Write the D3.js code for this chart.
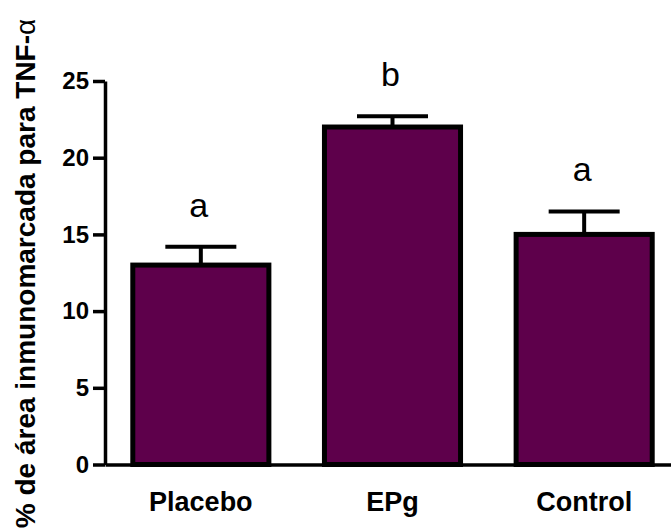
<html>
<script src='https://d3js.org/d3.v7.min.js'></script>
<body style="margin:0" onload='init()'>
<style>
    body { background: #fff; }
    text { font-family: Arial, "Liberation Sans", sans-serif; }
</style>
<svg width=671 height=531></svg>
<script>

// values
var groups  = ["Placebo", "EPg", "Control"];
var means   = [13.0, 22.0, 15.0];
var sems    = [1.2, 0.7, 1.5];
var letters = ["a", "b", "a"];
var yTicks  = [0, 5, 10, 15, 20, 25];

function init() {
    var svg = d3.select("svg");
    var barColor = "#5e004b";

    var x = d3.scaleBand()
        .domain(groups)
        .range([105, 680])
        .paddingInner(0.29)
        .paddingOuter(0.145);

    var y = d3.scaleLinear()
        .domain([0, 25])
        .range([464.5, 81]);

    var data = groups.map(function(g, i) {
        return {name: g, mean: means[i], sem: sems[i], letter: letters[i]};
    });

    // bars
    svg.append("g").selectAll("rect")
        .data(data)
        .enter()
        .append("rect")
        .attr("x", function(d) { return x(d.name); })
        .attr("y", function(d) { return y(d.mean); })
        .attr("width", x.bandwidth())
        .attr("height", function(d) { return y(0) - y(d.mean); })
        .attr("fill", barColor)
        .attr("stroke", "#000")
        .attr("stroke-width", 5);

    // error bars (upper only)
    var err = svg.append("g").attr("stroke", "#000").attr("stroke-width", 4);
    err.selectAll(".stem")
        .data(data)
        .enter()
        .append("line")
        .attr("x1", function(d) { return x(d.name) + x.bandwidth() / 2; })
        .attr("x2", function(d) { return x(d.name) + x.bandwidth() / 2; })
        .attr("y1", function(d) { return y(d.mean) - 2; })
        .attr("y2", function(d) { return y(d.mean + d.sem); });
    err.selectAll(".cap")
        .data(data)
        .enter()
        .append("line")
        .attr("x1", function(d) { return x(d.name) + x.bandwidth() / 2 - 35.5; })
        .attr("x2", function(d) { return x(d.name) + x.bandwidth() / 2 + 35.5; })
        .attr("y1", function(d) { return y(d.mean + d.sem); })
        .attr("y2", function(d) { return y(d.mean + d.sem); });

    // significance letters
    svg.append("g").selectAll("text")
        .data(data)
        .enter()
        .append("text")
        .attr("x", function(d) { return x(d.name) + x.bandwidth() / 2 - 2; })
        .attr("y", function(d) { return y(d.mean + d.sem) - 30; })
        .attr("text-anchor", "middle")
        .style("font-size", "34px")
        .text(function(d) { return d.letter; });

    // y axis
    var yAxis = svg.append("g")
        .attr("transform", "translate(105,0)")
        .call(d3.axisLeft(y)
            .tickValues(yTicks)
            .tickSize(12)
            .tickSizeOuter(0)
            .tickPadding(4));
    yAxis.select(".domain").attr("stroke-width", 3.5);
    yAxis.selectAll(".tick line").attr("stroke-width", 3.5);
    yAxis.selectAll(".tick text")
        .style("font-size", "24px")
        .style("font-weight", "bold")
        .attr("fill", "#000");

    // x axis
    var xAxis = svg.append("g")
        .attr("transform", "translate(0," + y(0) + ")")
        .call(d3.axisBottom(x)
            .tickSize(0)
            .tickSizeOuter(0)
            .tickPadding(27));
    xAxis.select(".domain").attr("stroke-width", 3.5);
    xAxis.selectAll(".tick text")
        .style("font-size", "27px")
        .style("font-weight", "bold")
        .attr("fill", "#000");

    // y label
    var lab = svg.append("text")
        .attr("transform", "translate(34.5,273.5) rotate(-90)")
        .attr("text-anchor", "middle")
        .style("font-size", "28px")
        .style("font-weight", "bold");
    lab.append("tspan").text("% de área inmunomarcada para TNF-");
    lab.append("tspan").style("font-weight", "normal").text("α");
}

</script>
</body>
</html>
